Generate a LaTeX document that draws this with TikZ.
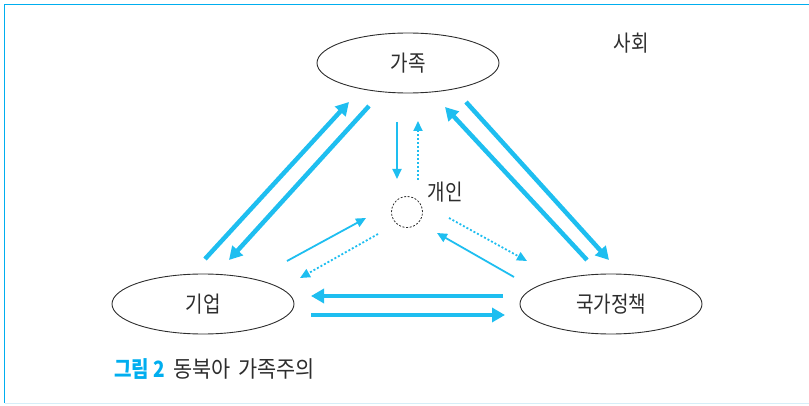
\documentclass[tikz,border=0pt]{standalone}
\usepackage{fontspec}
\newfontfamily\kr{Noto Sans CJK KR}
\usetikzlibrary{arrows.meta,shapes.geometric}
\definecolor{arrc}{RGB}{30,190,240}
\definecolor{framec}{RGB}{0,174,239}
\definecolor{framelight}{RGB}{214,238,248}
\definecolor{txt}{RGB}{45,45,45}
\newcommand{\tallkr}[1]{\scalebox{0.95}[1.12]{#1}}
\tikzset{
  oval/.style={ellipse,draw=txt,line width=0.9pt,minimum width=182pt,minimum height=60pt,inner sep=0pt,font=\kr\fontsize{20}{20}\selectfont,text=txt},
  lbl/.style={font=\kr\fontsize{20}{20}\selectfont,text=txt,inner sep=0pt},
  thick arr/.style={draw=arrc,line width=4.5pt,-{Triangle[length=13pt,width=14pt]}},
  thin arr/.style={draw=arrc,line width=1.8pt,-{Triangle[length=10pt,width=9pt]}},
  dot arr/.style={draw=arrc,line width=1.8pt,dash pattern=on 2pt off 2pt,-{Triangle[length=10pt,width=9pt]}},
}
\begin{document}
\begin{tikzpicture}[x=1pt,y=-1pt]
\useasboundingbox (0,0) rectangle (809,406);
% frame
\draw[framec,line width=1.6pt] (4.5,403) -- (4.5,4.5) -- (809,4.5);
\draw[framelight,line width=1.6pt] (4.5,403.5) -- (809,403.5);
% nodes
\node[oval] (fam) at (408,63) {\tallkr{가족}};
\node[oval] (biz) at (203,304) {\tallkr{기업}};
\node[oval] (state) at (611,304) {\tallkr{국가정책}};
\node[lbl] (soc) at (631,43) {\tallkr{사회}};
\node[circle,draw=txt,line width=0.8pt,dash pattern=on 2pt off 1.6pt,minimum size=31pt,inner sep=0pt] (ind) at (407,212) {};
\node[lbl] (indl) at (445,192) {\tallkr{개인}};
\node[font=\kr\fontsize{20}{20}\selectfont,inner sep=0pt,anchor=west] (cap) at (114,369) {\scalebox{0.95}[1.12]{\textcolor{framec}{\bfseries 그림 2}}\hspace{8pt}\scalebox{1.04}[1.14]{\textcolor{txt}{동북아\hspace{3pt} 가족주의}}};
% coordinates for arrow ends
\coordinate (a1s) at (205,259); \coordinate (a1e) at (349,102);
\coordinate (a2s) at (369,106); \coordinate (a2e) at (229,260);
\coordinate (a3s) at (587,260); \coordinate (a3e) at (445,107);
\coordinate (a4s) at (466,102); \coordinate (a4e) at (609,260);
\coordinate (a5s) at (503,296); \coordinate (a5e) at (311,296);
\coordinate (a6s) at (311,315); \coordinate (a6e) at (505,315);
\coordinate (b1s) at (397,122); \coordinate (b1e) at (397,179);
\coordinate (b2s) at (418,180); \coordinate (b2e) at (418,121);
\coordinate (b3s) at (287,261); \coordinate (b3e) at (366,218);
\coordinate (b4s) at (378,234); \coordinate (b4e) at (300,278);
\coordinate (b5s) at (449,218); \coordinate (b5e) at (527,261);
\coordinate (b6s) at (514,277); \coordinate (b6e) at (437,233);
% thick arrows
\draw[thick arr] (a1s) -- (a1e);
\draw[thick arr] (a2s) -- (a2e);
\draw[thick arr] (a3s) -- (a3e);
\draw[thick arr] (a4s) -- (a4e);
\draw[thick arr] (a5s) -- (a5e);
\draw[thick arr] (a6s) -- (a6e);
% inner arrows
\draw[thin arr] (b1s) -- (b1e);
\draw[dot arr] (b2s) -- (b2e);
\draw[thin arr] (b3s) -- (b3e);
\draw[dot arr] (b4s) -- (b4e);
\draw[dot arr] (b5s) -- (b5e);
\draw[thin arr] (b6s) -- (b6e);
\end{tikzpicture}
\end{document}
